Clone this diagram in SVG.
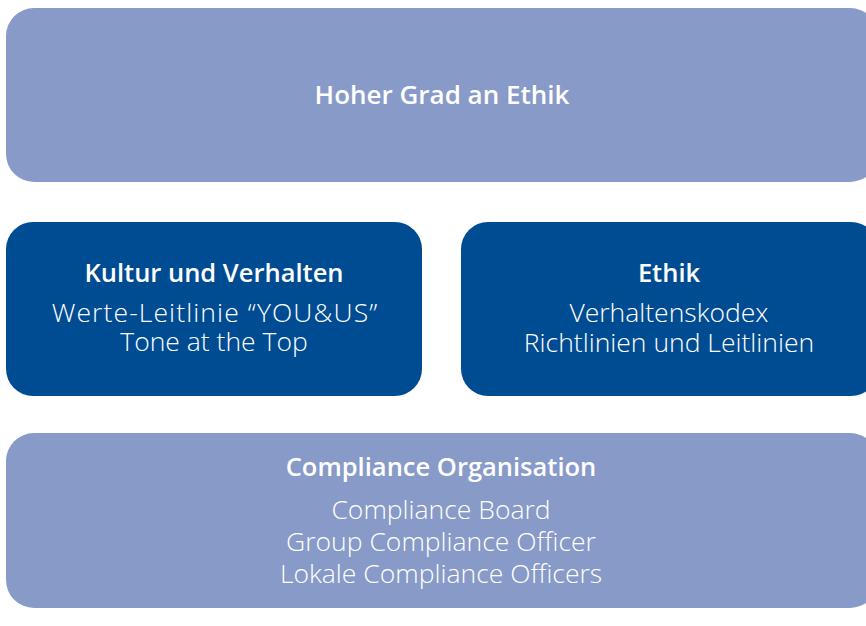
<svg xmlns="http://www.w3.org/2000/svg" width="866" height="626" viewBox="0 0 866 626">
<style>
.light{fill:#889AC7}
.dark{fill:#004C93}
text{font-family:"Open Sans",Lato,"Liberation Sans",sans-serif;fill:#ffffff;text-anchor:middle}
.h{font-weight:600;font-size:25.5px}
.b{font-weight:300;font-size:26.5px}
</style>
<rect width="866" height="626" fill="#ffffff"/>
<g id="node-top">
<rect class="light" x="6" y="8" width="872" height="174" rx="28"/>
<text class="h" x="442" y="104" style="font-size:26px">Hoher Grad an Ethik</text>
</g>
<g id="node-kultur">
<rect class="dark" x="6" y="222" width="416" height="174" rx="27"/>
<text class="h" x="214" y="282">Kultur und Verhalten</text>
<text class="b" x="215" y="322" letter-spacing="1.1">Werte-Leitlinie “YOU&amp;US”</text>
<text class="b" x="214" y="351">Tone at the Top</text>
</g>
<g id="node-ethik">
<rect class="dark" x="461" y="222" width="417" height="174" rx="27"/>
<text class="h" x="669" y="282">Ethik</text>
<text class="b" x="669" y="322">Verhaltenskodex</text>
<text class="b" x="669" y="352">Richtlinien und Leitlinien</text>
</g>
<g id="node-compliance">
<rect class="light" x="6" y="433" width="872" height="175" rx="28"/>
<text class="h" x="441" y="476">Compliance Organisation</text>
<text class="b" x="441" y="519">Compliance Board</text>
<text class="b" x="441" y="551">Group Compliance Officer</text>
<text class="b" x="441" y="583">Lokale Compliance Officers</text>
</g>
<g id="connectors"></g>
</svg>
